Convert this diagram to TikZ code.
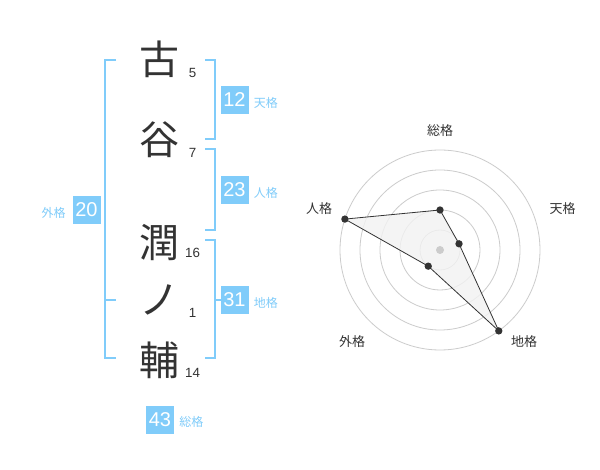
\documentclass[tikz,border=0pt]{standalone}
\usepackage{fontspec}
\setmainfont{Liberation Sans}
\newfontfamily\jp{Noto Sans CJK JP}
\definecolor{lb}{RGB}{128,204,250}
\definecolor{ink}{RGB}{51,51,51}
\definecolor{ringc}{RGB}{204,204,204}
\definecolor{fillc}{RGB}{242,242,242}
\begin{document}
\begin{tikzpicture}[x=0.75pt,y=-0.75pt,
  kanji/.style={text=ink,font=\jp\fontsize{30}{30}\selectfont,inner sep=0pt,anchor=base},
  stroke/.style={text=ink,font=\fontsize{10}{10}\selectfont,inner sep=0pt,anchor=base},
  numbox/.style={fill=lb,text=white,font=\fontsize{15}{15}\selectfont,minimum size=21pt,inner sep=0pt},
  kaku/.style={text=lb,font=\jp\fontsize{9}{9}\selectfont,inner sep=0pt},
  bracket/.style={draw=lb,line width=1.5pt},
  ring/.style={draw=ringc,line width=0.6pt},
  dot/.style={circle,fill=ink,inner sep=0pt,minimum size=5.5pt},
  rlabel/.style={text=ink,font=\jp\fontsize{9.75}{9.75}\selectfont,inner sep=0pt}]
\useasboundingbox[fill=white] (0,0) rectangle (600,470);

% characters
\node[kanji] (k1) at (159,75) {古};
\node[kanji] (k2) at (159,155) {谷};
\node[kanji] (k3) at (159,257.5) {潤};
\node[kanji] (k4) at (159,315) {ノ};
\node[kanji] (k5) at (159,375) {輔};
\node[stroke] (s1) at (192.5,77.5) {5};
\node[stroke] (s2) at (192.5,157.5) {7};
\node[stroke] (s3) at (192.5,257.5) {16};
\node[stroke] (s4) at (192.5,318) {1};
\node[stroke] (s5) at (192.5,378) {14};

% brackets
\draw[bracket] (116,60.5) -- (105,60.5) -- (105,358.5) -- (116,358.5);
\draw[bracket] (105,300) -- (116,300);
\draw[bracket] (205,60.5) -- (215,60.5) -- (215,139.5) -- (205,139.5);
\draw[bracket] (205,149.5) -- (215,149.5) -- (215,230) -- (205,230);
\draw[bracket] (205,240) -- (215,240) -- (215,358.5) -- (205,358.5);
\draw[bracket] (215,300) -- (221,300);

% boxes
\node[numbox] (ten) at (234.5,100) {12};
\node[numbox] (jin) at (234.5,190) {23};
\node[numbox] (chi) at (234.5,300) {31};
\node[numbox] (gai) at (86.5,210) {20};
\node[numbox] (sou) at (160,420) {43};
\node[kaku,anchor=west] (tenl) at (253.5,102.5) {天格};
\node[kaku,anchor=west] (jinl) at (253.5,192.5) {人格};
\node[kaku,anchor=west] (chil) at (253.5,302.5) {地格};
\node[kaku,anchor=east] (gail) at (66,212.5) {外格};
\node[kaku,anchor=west] (soul) at (179,421.5) {総格};

% radar chart
\coordinate (c) at (440,250);
\foreach \r in {15,30,45,60,75} \draw[ring] (c) circle[radius=\r pt];
\coordinate (p1) at ([shift={(90:30pt)}]c);
\coordinate (p2) at ([shift={(18:15pt)}]c);
\coordinate (p3) at ([shift={(-54:75pt)}]c);
\coordinate (p4) at ([shift={(-126:15pt)}]c);
\coordinate (p5) at ([shift={(162:75pt)}]c);
\filldraw[fill=fillc,fill opacity=0.8,draw=ink,line width=0.6pt] (p1) -- (p2) -- (p3) -- (p4) -- (p5) -- cycle;
\fill[ringc] (c) circle[radius=3pt];
\foreach \p in {p1,p2,p3,p4,p5} \node[dot] at (\p) {};
\node[rlabel] (r1) at (440,130.5) {総格};
\node[rlabel] (r2) at (562.5,208.5) {天格};
\node[rlabel] (r3) at (524,342) {地格};
\node[rlabel] (r4) at (352,342) {外格};
\node[rlabel] (r5) at (319,208.5) {人格};
\end{tikzpicture}
\end{document}
